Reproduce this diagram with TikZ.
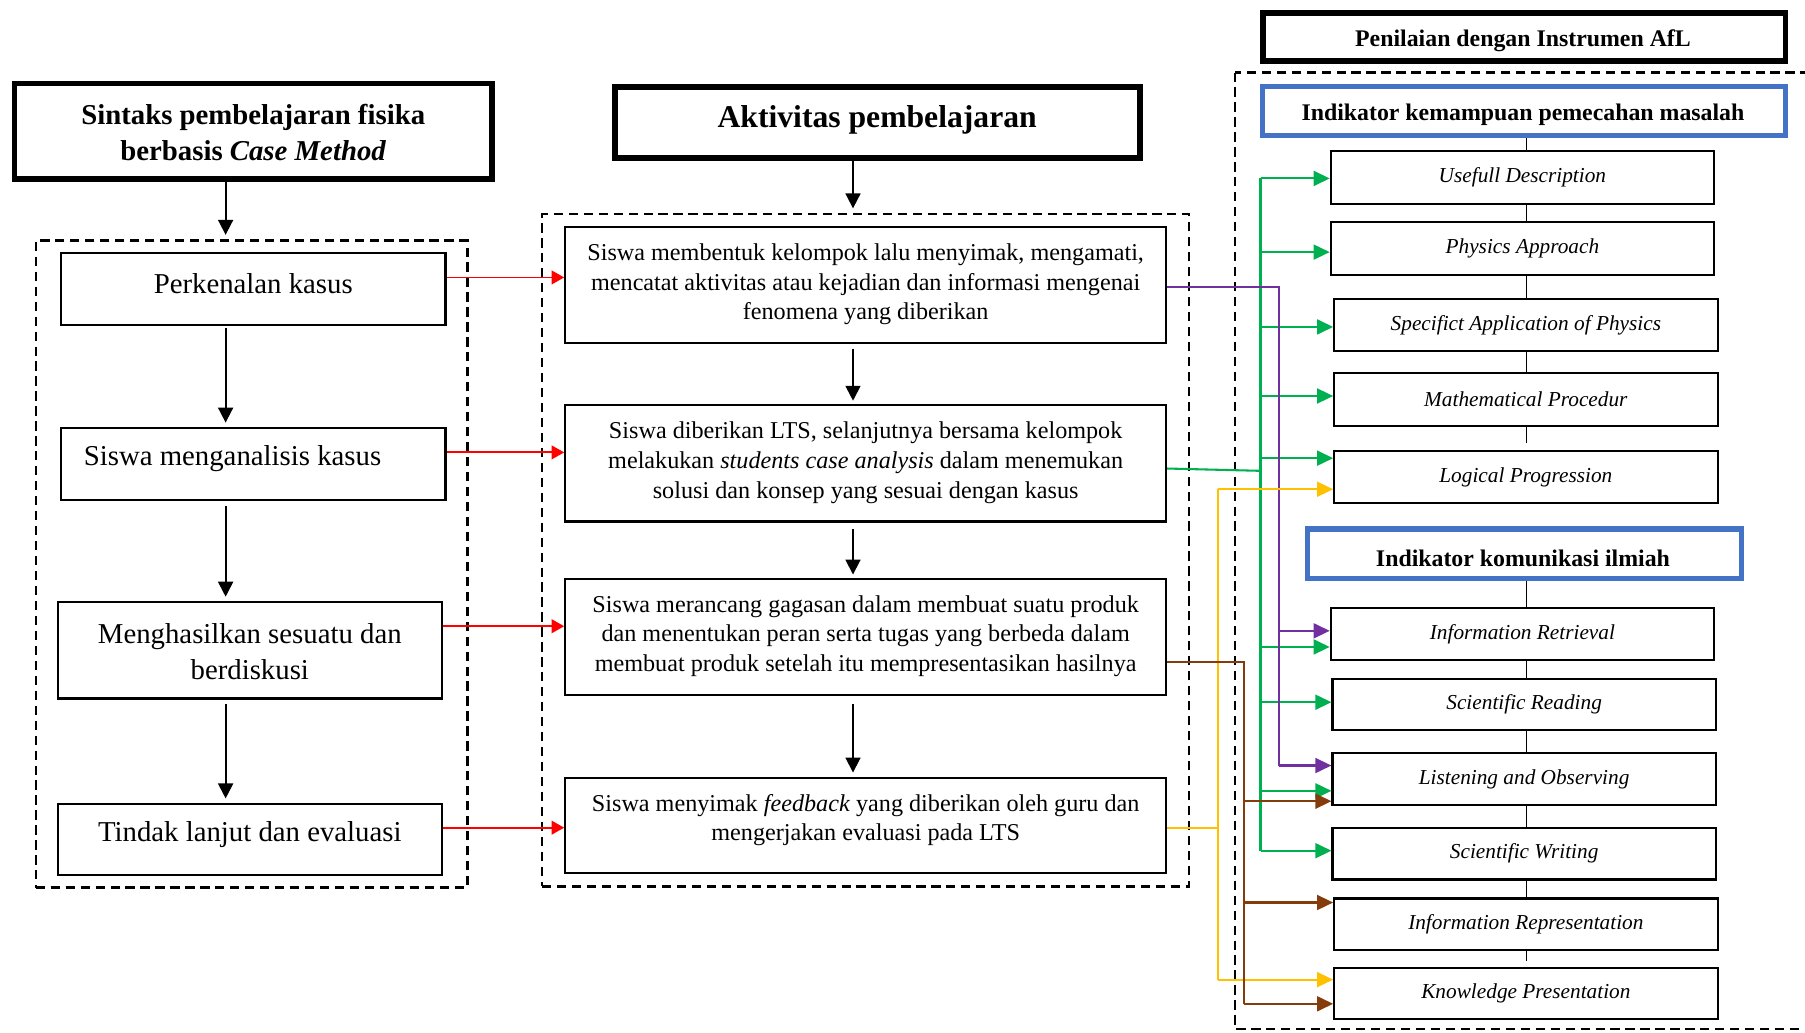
\documentclass[tikz,border=0pt]{standalone}
\usepackage{fontspec}
\setmainfont{Liberation Serif}
\usetikzlibrary{arrows.meta}
\definecolor{cred}{HTML}{FF0000}
\definecolor{cpurple}{HTML}{7030A0}
\definecolor{cgreen}{HTML}{00B050}
\definecolor{cyellow}{HTML}{FFC000}
\definecolor{cbrown}{HTML}{843C0C}
\definecolor{cblue}{HTML}{4472C4}
\begin{document}
\begin{tikzpicture}[x=1pt,y=-1pt,
  box/.style={draw, line width=1.8pt, inner sep=0pt},
  titlebox/.style={draw, line width=5pt, inner sep=0pt},
  bluebox/.style={draw=cblue, line width=4.5pt, inner sep=0pt},
  dashbox/.style={draw, line width=2pt, dash pattern=on 8pt off 5pt, inner sep=0pt},
  blk/.style={line width=1.6pt, -{Triangle[length=13pt,width=13pt]}},
  redarr/.style={draw=cred, line width=1.6pt, -{Triangle[length=11pt,width=12pt]}},
  carr/.style={line width=1.8pt, -{Triangle[length=14pt,width=13pt]}},
  cl/.style={line width=1.8pt},
  ltxt/.style={font=\fontsize{25}{31}\selectfont, align=center, inner sep=0pt},
  mtxt/.style={font=\fontsize{21}{25.7}\selectfont, align=center, inner sep=0pt},
  itxt/.style={font=\fontsize{18.5}{22}\selectfont\itshape},
  btxt/.style={font=\fontsize{20.7}{25}\selectfont\bfseries},
]
\useasboundingbox (0,0) rectangle (1568,897);

% ---------- left column ----------
\node[titlebox, minimum width=415pt, minimum height=83pt] (lt) at (220,114) {};
\node[ltxt, font=\fontsize{25}{31}\selectfont\bfseries] (ltt) at (220,115) {Sintaks pembelajaran fisika\\berbasis \textit{Case Method}};
\node[dashbox, minimum width=375pt, minimum height=562pt] (ld) at (218.5,490) {};
\node[box, minimum width=334pt, minimum height=62pt] (l1) at (220,251) {};
\node[ltxt] (l1t) at (220,246) {Perkenalan kasus};
\node[box, minimum width=334pt, minimum height=62pt] (l2) at (220,403) {};
\node[ltxt] (l2t) at (202,398) {Siswa menganalisis kasus};
\node[box, minimum width=334pt, minimum height=83.5pt] (l3) at (217,565) {};
\node[ltxt] (l3t) at (217,566) {Menghasilkan sesuatu dan\\berdiskusi};
\node[box, minimum width=334pt, minimum height=62pt] (l4) at (217,729.5) {};
\node[ltxt] (l4t) at (217,725) {Tindak lanjut dan evaluasi};
\coordinate (lx) at (196,0);
\draw[blk, shorten >=4pt] (lx |- lt.south) -- (lx |- ld.north);
\draw[blk, shorten <=2pt, shorten >=4pt] (lx |- l1.south) -- (lx |- l2.north);
\draw[blk, shorten <=5pt, shorten >=4pt] (lx |- l2.south) -- (lx |- l3.north);
\draw[blk, shorten <=4pt, shorten >=4pt] (lx |- l3.south) -- (lx |- l4.north);

% ---------- middle column ----------
\node[titlebox, minimum width=456pt, minimum height=62pt] (mt) at (762.5,106.5) {};
\node[btxt, font=\fontsize{27.5}{31}\selectfont\bfseries] (mtt) at (762,104) {Aktivitas pembelajaran};
\node[dashbox, minimum width=562pt, minimum height=584pt] (md) at (752,478) {};
\node[box, minimum width=522pt, minimum height=101pt] (m1) at (752,247.5) {};
\node[mtxt] (m1t) at (752,247) {Siswa membentuk kelompok lalu menyimak, mengamati,\\mencatat aktivitas atau kejadian dan informasi mengenai\\fenomena yang diberikan};
\node[box, minimum width=522pt, minimum height=101pt] (m2) at (752,402.5) {};
\node[mtxt] (m2t) at (752,402) {Siswa diberikan LTS, selanjutnya bersama kelompok\\melakukan \textit{students case analysis} dalam menemukan\\solusi dan konsep yang sesuai dengan kasus};
\node[box, minimum width=522pt, minimum height=100.5pt] (m3) at (752,553.25) {};
\node[mtxt] (m3t) at (752,552.5) {Siswa merancang gagasan dalam membuat suatu produk\\dan menentukan peran serta tugas yang berbeda dalam\\membuat produk setelah itu mempresentasikan hasilnya};
\node[box, minimum width=522pt, minimum height=82.5pt] (m4) at (752,717.25) {};
\node[mtxt] (m4t) at (752,712.5) {Siswa menyimak \textit{feedback} yang diberikan oleh guru dan\\mengerjakan evaluasi pada LTS};
\coordinate (mx) at (741,0);
\draw[blk, shorten >=4pt] (mx |- mt.south) -- (mx |- md.north);
\draw[blk, shorten <=4pt, shorten >=3pt] (mx |- m1.south) -- (mx |- m2.north);
\draw[blk, shorten <=6pt, shorten >=3pt] (mx |- m2.south) -- (mx |- m3.north);
\draw[blk, shorten <=7pt, shorten >=4pt] (mx |- m3.south) -- (mx |- m4.north);

% red connectors
\draw[redarr] (l1.east |- 0,241) -- (m1.west |- 0,241);
\draw[redarr] (l2.east |- 0,393) -- (m2.west |- 0,393);
\draw[redarr] (l3.east |- 0,544) -- (m3.west |- 0,544);
\draw[redarr] (l4.east |- 0,719) -- (m4.west |- 0,719);

% ---------- right column ----------
\node[titlebox, minimum width=454pt, minimum height=42pt] (rt) at (1324,32) {};
\node[btxt] (rtt) at (1323,35) {Penilaian dengan Instrumen AfL};
\draw[line width=2pt, dash pattern=on 8pt off 5pt] (1073,63) rectangle (1590,894);
\node[bluebox, minimum width=454pt, minimum height=43pt] (ia) at (1324,96.5) {};
\node[btxt] (iat) at (1323,100) {Indikator kemampuan pemecahan masalah};
\node[box, itxt, minimum width=333pt, minimum height=46pt] (p1) at (1322.5,154) {Usefull Description};
\node[box, itxt, minimum width=333pt, minimum height=46pt] (p2) at (1322.5,216) {Physics Approach};
\node[box, itxt, minimum width=333pt, minimum height=45pt] (p3) at (1325.5,282.5) {Specifict Application of Physics};
\node[box, itxt, minimum width=333pt, minimum height=46pt] (p4) at (1325.5,347) {Mathematical Procedur};
\node[box, itxt, minimum width=333pt, minimum height=45pt] (p5) at (1325.5,414.5) {Logical Progression};
\node[bluebox, minimum width=377pt, minimum height=43pt] (ib) at (1324,481) {};
\node[btxt] (ibt) at (1323,485) {Indikator komunikasi ilmiah};
\node[box, itxt, minimum width=333pt, minimum height=45pt] (c1) at (1322.5,551) {Information Retrieval};
\node[box, itxt, minimum width=333pt, minimum height=45pt] (c2) at (1324,612) {Scientific Reading};
\node[box, itxt, minimum width=333pt, minimum height=45pt] (c3) at (1324,677) {Listening and Observing};
\node[box, itxt, minimum width=333pt, minimum height=45pt] (c4) at (1324,741.5) {Scientific Writing};
\node[box, itxt, minimum width=333pt, minimum height=45pt] (c5) at (1325.5,803) {Information Representation};
\node[box, itxt, minimum width=333pt, minimum height=45pt] (c6) at (1325.5,863) {Knowledge Presentation};

\coordinate (vx) at (1326,0);
\begin{scope}[line width=1.6pt]
\draw (vx |- ia.south) -- (vx |- p1.north);
\draw (vx |- p1.south) -- (vx |- p2.north);
\draw (vx |- p2.south) -- (vx |- p3.north);
\draw (vx |- p3.south) -- (vx |- p4.north);
\draw (vx |- p4.south) -- ++(0,14);
\draw (vx |- ib.south) -- (vx |- c1.north);
\draw (vx |- c1.south) -- (vx |- c2.north);
\draw (vx |- c2.south) -- (vx |- c3.north);
\draw (vx |- c3.south) -- (vx |- c4.north);
\draw (vx |- c4.south) -- (vx |- c5.north);
\draw (vx |- c5.south) -- ++(0,8);
\end{scope}

\coordinate (yb) at (1058,0);
\coordinate (bb) at (1081,0);
\coordinate (gb) at (1095,0);
\coordinate (pb) at (1111,0);

% green
\draw[cl, cgreen] (m2.east |- 0,407) -- (gb |- 0,409);
\draw[cl, cgreen] (gb |- 0,155) -- (gb |- 0,739);
\foreach \n/\yy in {p1/155, p2/219, p3/284, p4/344, p5/398, c1/562, c2/610, c3/687, c4/739}
  \draw[carr, cgreen] (gb |- 0,\yy) -- (\n.west |- 0,\yy);

% purple
\draw[cl, cpurple] (m1.east |- 0,249) -- (pb |- 0,249) -- (pb |- 0,665);
\draw[carr, cpurple] (pb |- 0,548) -- (c1.west |- 0,548);
\draw[carr, cpurple] (pb |- 0,665) -- (c3.west |- 0,665);

% yellow
\draw[cl, cyellow] (m4.east |- 0,719) -- (yb |- 0,719);
\draw[cl, cyellow] (yb |- 0,425) -- (yb |- 0,851);
\draw[carr, cyellow] (yb |- 0,425) -- (p5.west |- 0,425);
\draw[carr, cyellow] (yb |- 0,851) -- (c6.west |- 0,851);

% brown
\draw[cl, cbrown] (m3.east |- 0,575) -- (bb |- 0,575) -- (bb |- 0,872);
\draw[carr, cbrown] (bb |- 0,696) -- (c3.west |- 0,696);
\draw[carr, cbrown] (bb |- 0,784) -- (c5.west |- 0,784);
\draw[carr, cbrown] (bb |- 0,872) -- (c6.west |- 0,872);
\end{tikzpicture}
\end{document}
